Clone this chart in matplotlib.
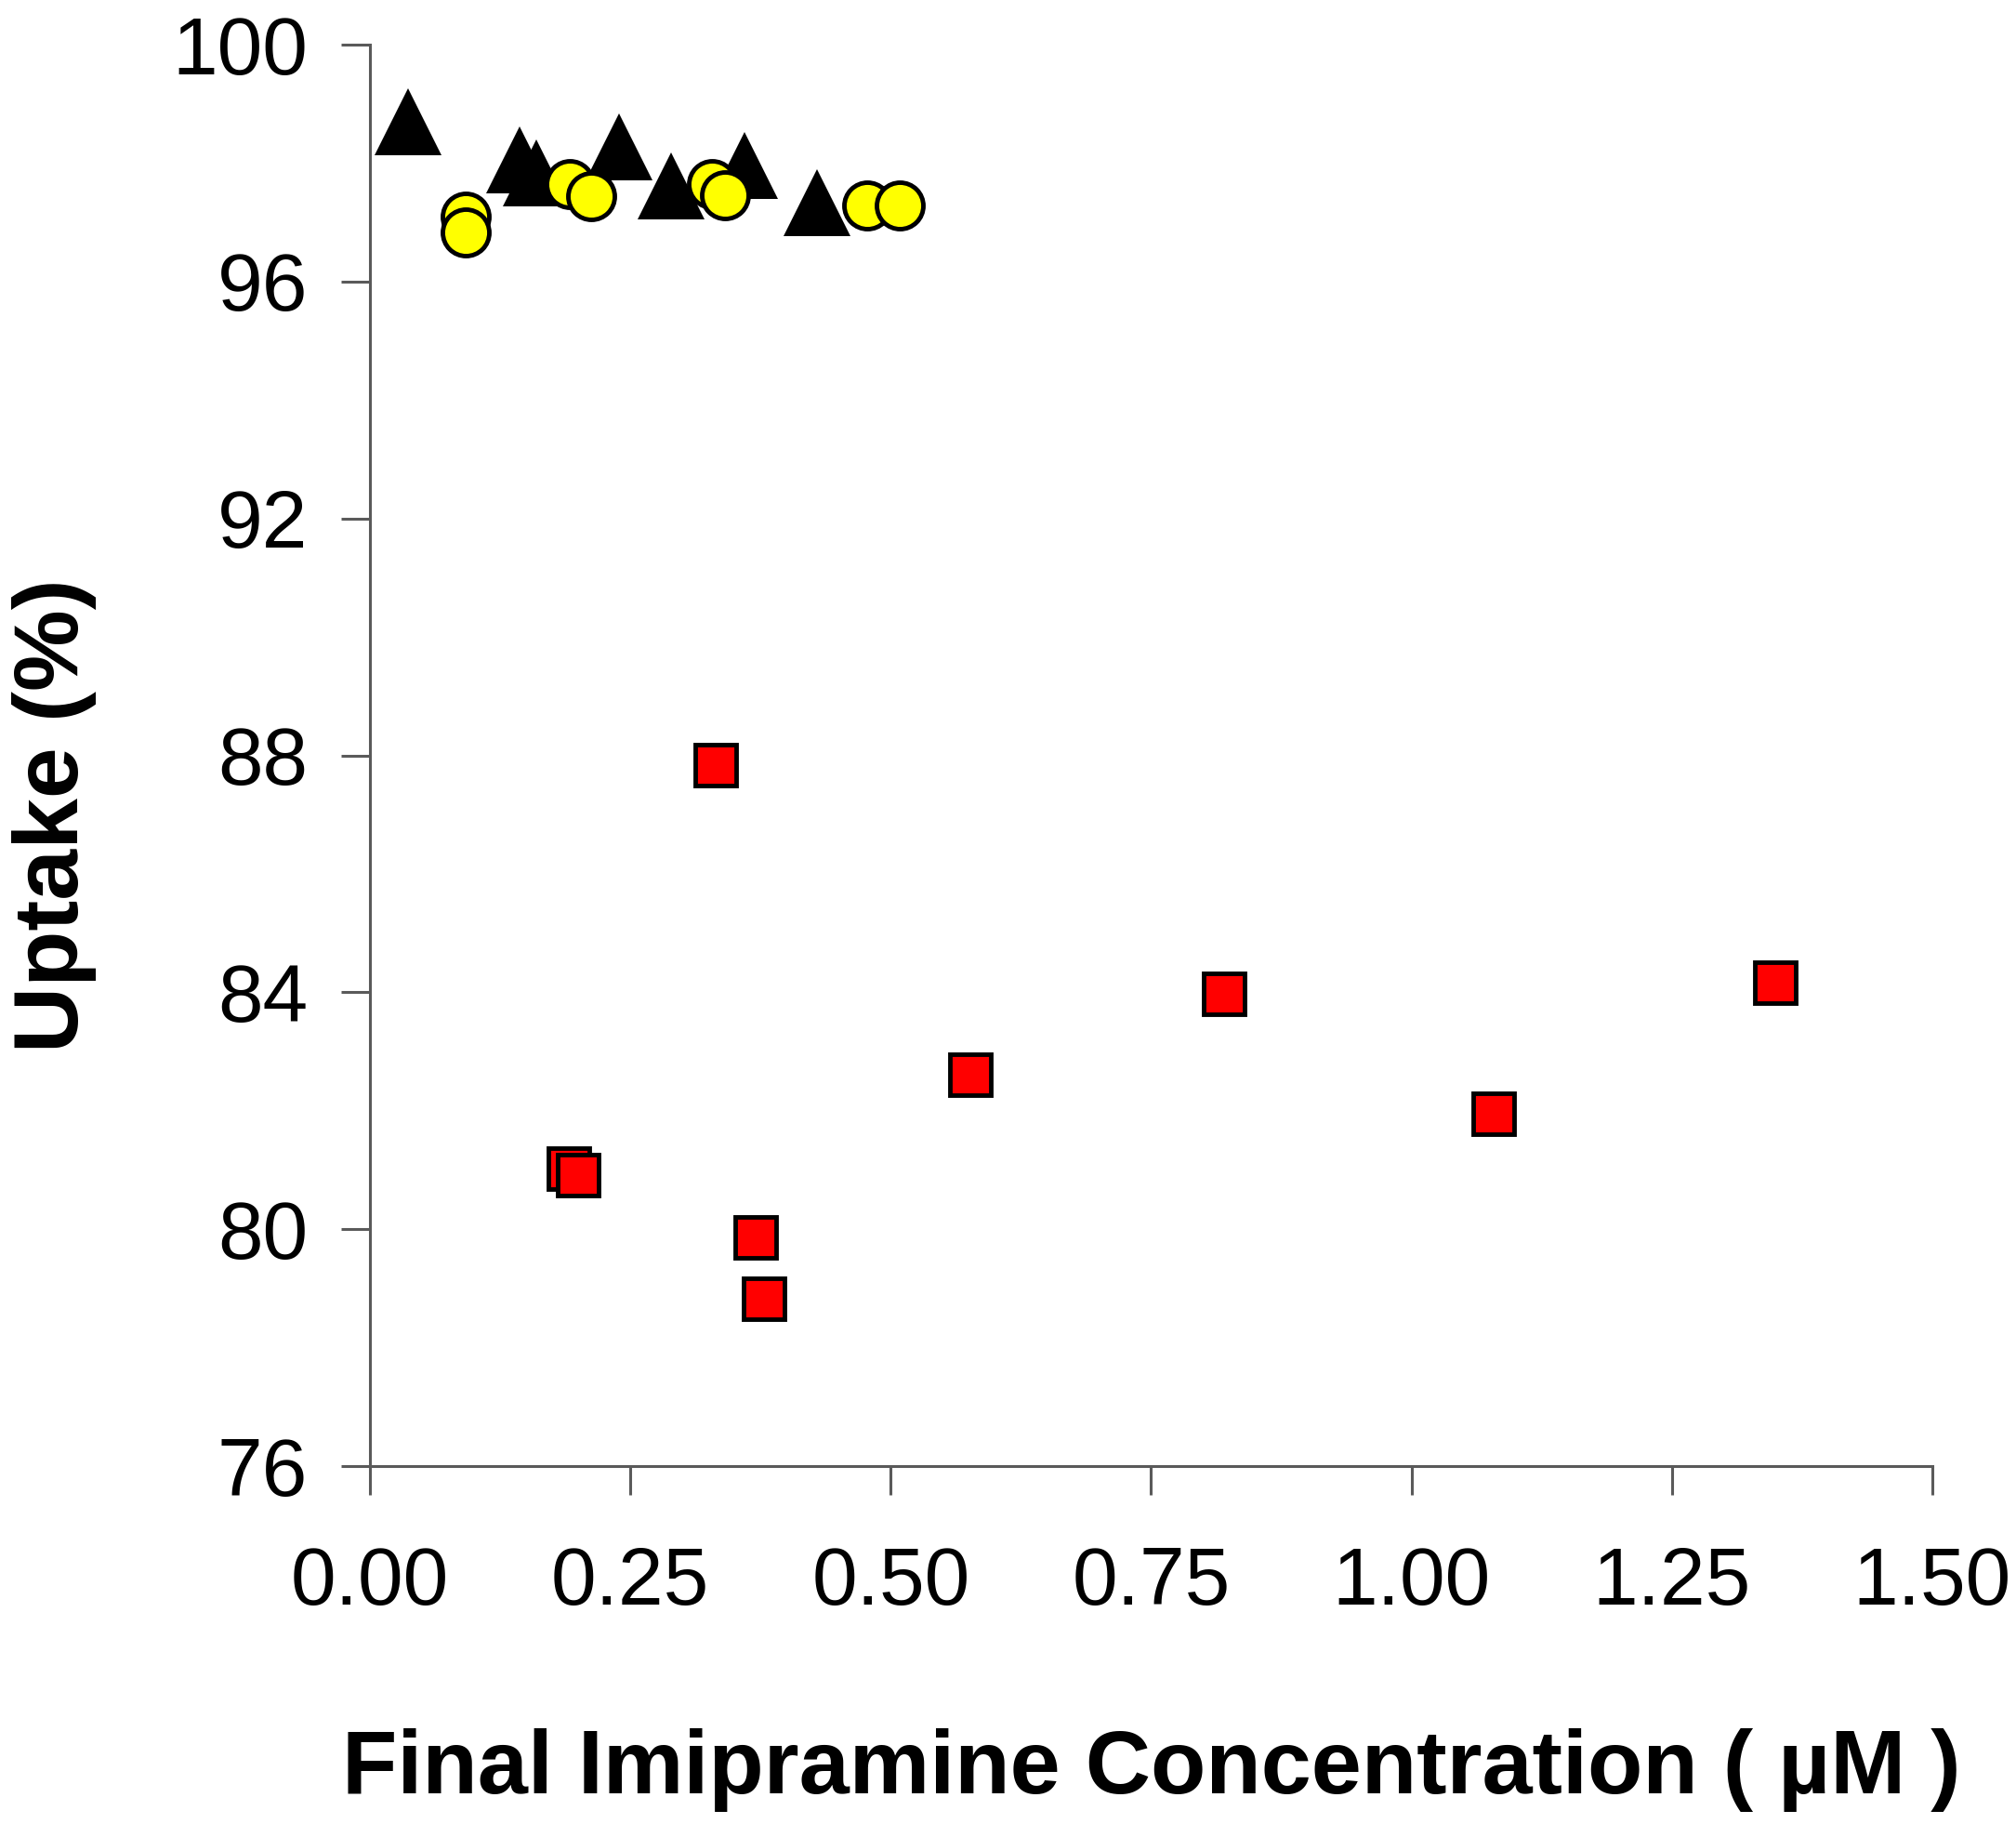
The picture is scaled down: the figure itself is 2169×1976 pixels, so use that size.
import matplotlib
matplotlib.use('Agg')
import matplotlib.pyplot as plt
from matplotlib.ticker import FormatStrFormatter

# control (triangles), yellow circles, red squares
tri_x = [0.037, 0.144, 0.160, 0.239, 0.289, 0.360, 0.429]
tri_y = [98.69, 98.05, 97.83, 98.27, 97.61, 97.96, 97.33]

circ_x = [0.092, 0.092, 0.192, 0.212, 0.328, 0.341, 0.477, 0.509]
circ_y = [97.10, 96.83, 97.65, 97.44, 97.65, 97.46, 97.28, 97.28]

sq_x = [0.332, 0.191, 0.200, 0.370, 0.378, 0.576, 0.820, 1.079, 1.349]
sq_y = [87.84, 81.02, 80.92, 79.86, 78.82, 82.61, 83.97, 81.95, 84.17]

x_ticks = [0.0, 0.25, 0.5, 0.75, 1.0, 1.25, 1.5]
y_ticks = [76, 80, 84, 88, 92, 96, 100]

plt.rcParams['font.family'] = ['Liberation Sans', 'DejaVu Sans']

fig = plt.figure(figsize=(21.69, 19.76), dpi=100)
ax = fig.add_axes([0.1835, 0.2019, 0.775, 0.7738])

ax.plot(tri_x, tri_y, linestyle='none', marker='^', markersize=52,
        color='black', markeredgewidth=0, zorder=3, clip_on=False)
ax.plot(circ_x, circ_y, linestyle='none', marker='o', markersize=36,
        markerfacecolor='#ffff00', markeredgecolor='black',
        markeredgewidth=3.5, zorder=4, clip_on=False)
ax.plot(sq_x, sq_y, linestyle='none', marker='s', markersize=31,
        markerfacecolor='#ff0000', markeredgecolor='black',
        markeredgewidth=3.5, zorder=4, clip_on=False)

ax.set_xlim(0, 1.5)
ax.set_ylim(76, 100)
ax.set_xticks(x_ticks)
ax.set_yticks(y_ticks)
ax.xaxis.set_major_formatter(FormatStrFormatter('%.2f'))

for side in ['top', 'right']:
    ax.spines[side].set_visible(False)
for side in ['left', 'bottom']:
    ax.spines[side].set_color('#5a5a5a')
    ax.spines[side].set_linewidth(2.2)

ax.tick_params(axis='both', direction='out', length=22, width=2.2,
               color='#5a5a5a', labelsize=63, labelcolor='black')
ax.tick_params(axis='x', pad=40)
ax.tick_params(axis='y', pad=26)

fig.text(0.571, 0.0365, 'Final Imipramine Concentration ( µM )',
         ha='center', va='center', fontsize=70, fontweight='bold')
fig.text(0.027, 0.556, 'Uptake (%)', ha='center', va='center',
         rotation=90, fontsize=71, fontweight='bold')

fig.savefig('out.png', dpi=100)
